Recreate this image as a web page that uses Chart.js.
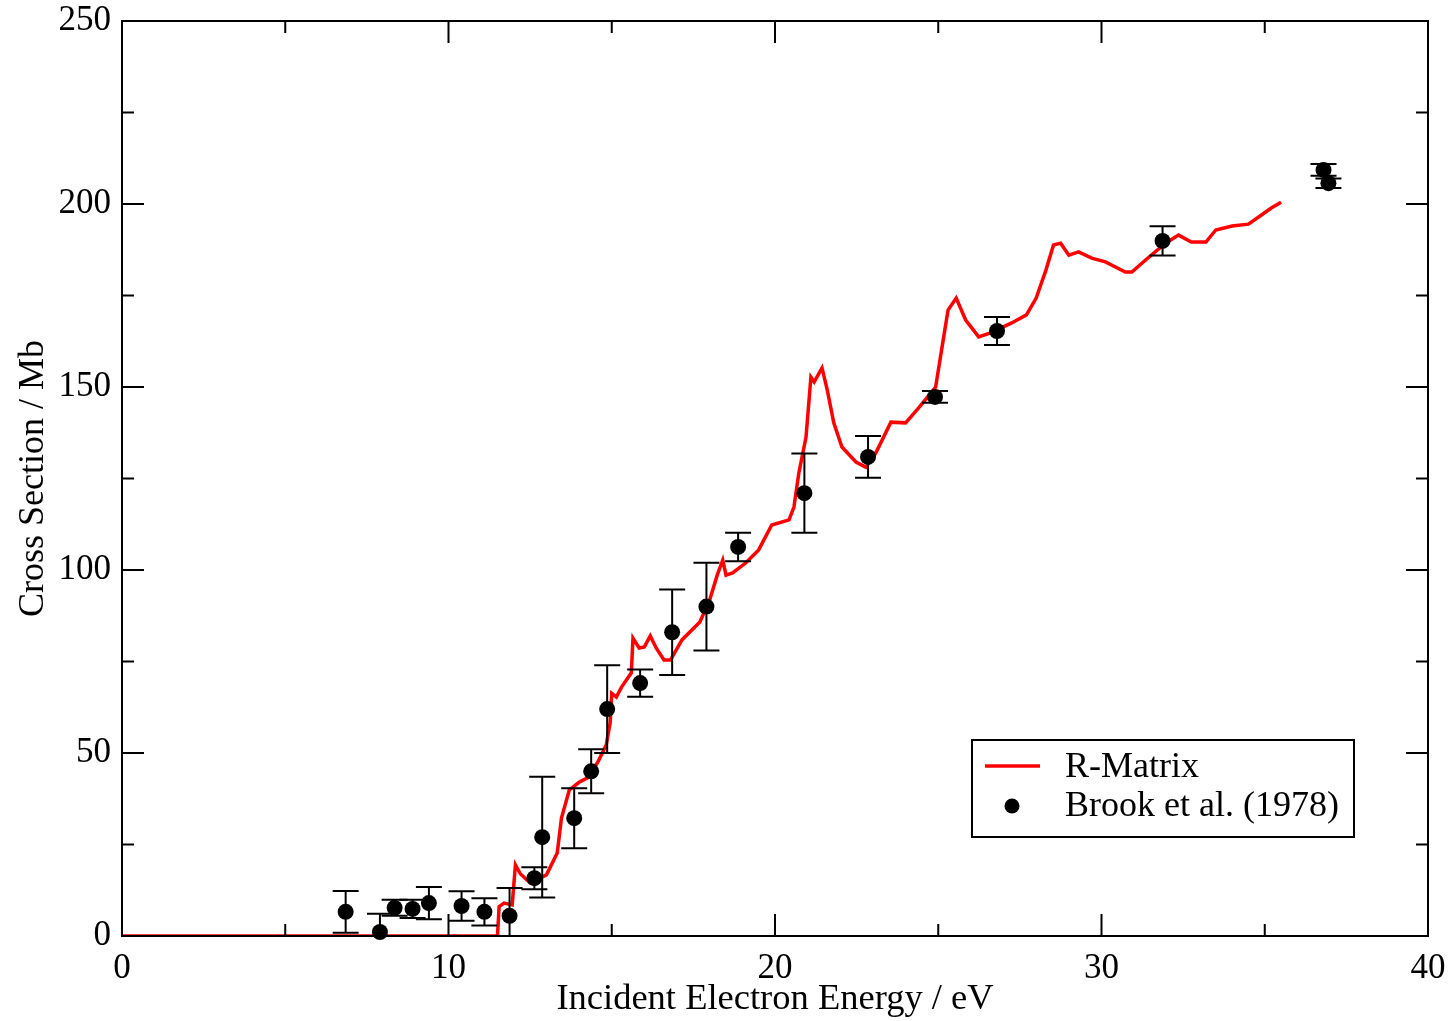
<!DOCTYPE html>
<html>
<head>
<meta charset="utf-8">
<script src="https://cdn.jsdelivr.net/npm/chart.js@4.4.1/dist/chart.umd.min.js"></script>
<style>
  html, body { margin: 0; padding: 0; background: #fff; }
  #wrap { width: 1451px; height: 1021px; position: relative; }
</style>
</head>
<body>
<div id="wrap"><canvas id="chart"></canvas></div>
<script>
// R-Matrix curve (energy in eV, cross section in Mb)
const rmEnergy = [0, 11.5, 11.55, 11.7, 11.95, 12.05, 12.2, 12.5, 13.0, 13.33, 13.46, 13.7, 14.0, 14.3, 14.6, 14.83, 14.95, 15.0, 15.14, 15.3, 15.6, 15.65, 15.84, 16.0, 16.18, 16.36, 16.6, 16.8, 17.15, 17.7, 18.0, 18.23, 18.4, 18.5, 18.7, 19.1, 19.5, 19.9, 20.43, 20.58, 20.73, 20.95, 21.1, 21.2, 21.44, 21.6, 21.8, 22.05, 22.48, 22.78, 23.09, 23.55, 24.0, 24.4, 24.92, 25.1, 25.3, 25.55, 25.84, 26.24, 26.6, 27.25, 27.7, 28.0, 28.3, 28.53, 28.75, 29.0, 29.3, 29.7, 30.12, 30.73, 30.93, 31.35, 31.96, 32.36, 32.75, 33.2, 33.5, 34.0, 34.5, 34.9, 35.2, 35.5];
const rmCross = [0, 0, 8, 9, 8.5, 19.4, 17, 14.5, 16.7, 22.7, 32.2, 39.9, 42, 43.4, 48, 52.2, 58.2, 66.3, 65.3, 68, 71.9, 81.4, 78.7, 79, 82, 78.7, 75.4, 75.4, 80.9, 85.8, 91.8, 98.6, 102.7, 98.6, 99.2, 101.9, 105.5, 112.3, 113.7, 117.2, 126.5, 136.3, 152.7, 151.4, 155.2, 149.2, 140.2, 133.6, 129.5, 128.1, 132, 140.4, 140.2, 144.3, 150, 160, 171, 174.3, 168.3, 163.7, 164.8, 167.5, 169.7, 174.3, 182, 188.8, 189.3, 186, 186.9, 185.2, 184.2, 181.4, 181.4, 184.7, 189.3, 191.5, 189.6, 189.6, 192.9, 194, 194.5, 197, 198.9, 200.5];

// Brook et al. (1978) measurements
const brookEnergy = [6.85, 7.9, 8.35, 8.9, 9.4, 10.4, 11.1, 11.87, 12.63, 12.87, 13.85, 14.37, 14.86, 15.87, 16.85, 17.9, 18.87, 20.9, 22.85, 24.9, 26.8, 31.87, 36.8, 36.95];
const brookCross = [6.6, 1.1, 7.7, 7.4, 9.0, 8.2, 6.6, 5.5, 15.8, 27, 32.2, 45, 62, 69.1, 83, 90, 106.3, 121, 130.9, 147.3, 165.3, 189.9, 209.3, 205.7];
const brookErr = [5.7, 5, 2.2, 2.5, 4.4, 4, 3.7, 7.6, 3, 16.5, 8.2, 6, 12, 3.7, 11.7, 12, 3.9, 10.8, 5.7, 1.6, 3.8, 4, 1.6, 1.3];

const xMajor = [0, 10, 20, 30, 40];
const xMinor = [5, 15, 25, 35];
const yMajor = [0, 50, 100, 150, 200, 250];
const yMinor = [25, 75, 125, 175, 225];

const seriesLabels = ['R-Matrix', 'Brook et al. (1978)'];
const xTitle = 'Incident Electron Energy / eV';
const yTitle = 'Cross Section / Mb';

const SERIF = '"Liberation Serif", "DejaVu Serif", serif';
const RED = '#ff0000';

// error bars, drawn through the scales
const errorBars = {
  id: 'errorBars',
  afterDatasetsDraw(chart) {
    const { ctx, scales: { x, y }, chartArea: a } = chart;
    ctx.save();
    ctx.beginPath();
    ctx.rect(a.left, a.top, a.right - a.left, a.bottom - a.top);
    ctx.clip();
    ctx.strokeStyle = '#000';
    ctx.lineWidth = 2;
    brookEnergy.forEach((e, i) => {
      const px = x.getPixelForValue(e);
      const top = y.getPixelForValue(brookCross[i] + brookErr[i]);
      const bot = y.getPixelForValue(brookCross[i] - brookErr[i]);
      ctx.beginPath();
      ctx.moveTo(px, top); ctx.lineTo(px, bot);
      ctx.moveTo(px - 13, top); ctx.lineTo(px + 13, top);
      ctx.moveTo(px - 13, bot); ctx.lineTo(px + 13, bot);
      ctx.stroke();
    });
    ctx.restore();
  }
};

// frame + inward ticks on all four sides, legend box
const frame = {
  id: 'frame',
  afterDraw(chart) {
    const { ctx, scales: { x, y }, chartArea: a } = chart;
    ctx.save();
    ctx.strokeStyle = '#000';
    ctx.lineWidth = 2;
    ctx.strokeRect(a.left, a.top, a.right - a.left, a.bottom - a.top);
    ctx.beginPath();
    const tx = (v, len) => {
      const p = x.getPixelForValue(v);
      ctx.moveTo(p, a.bottom); ctx.lineTo(p, a.bottom - len);
      ctx.moveTo(p, a.top); ctx.lineTo(p, a.top + len);
    };
    const ty = (v, len) => {
      const p = y.getPixelForValue(v);
      ctx.moveTo(a.left, p); ctx.lineTo(a.left + len, p);
      ctx.moveTo(a.right, p); ctx.lineTo(a.right - len, p);
    };
    xMajor.forEach(v => tx(v, 22));
    xMinor.forEach(v => tx(v, 12));
    yMajor.forEach(v => ty(v, 22));
    yMinor.forEach(v => ty(v, 12));
    ctx.stroke();

    // legend
    const lx = 972, ly = 740, lw = 382, lh = 97;
    ctx.fillStyle = '#fff';
    ctx.fillRect(lx, ly, lw, lh);
    ctx.strokeRect(lx, ly, lw, lh);
    ctx.strokeStyle = RED;
    ctx.lineWidth = 3.5;
    ctx.beginPath();
    ctx.moveTo(985, 766); ctx.lineTo(1040, 766);
    ctx.stroke();
    ctx.fillStyle = '#000';
    ctx.beginPath();
    ctx.arc(1012, 806, 7.5, 0, Math.PI * 2);
    ctx.fill();
    ctx.font = '36px ' + SERIF;
    ctx.textBaseline = 'middle';
    ctx.textAlign = 'left';
    ctx.fillText(seriesLabels[0], 1065, 768);
    ctx.fillText(seriesLabels[1], 1065, 807);
    ctx.restore();
  }
};

new Chart(document.getElementById('chart'), {
  type: 'scatter',
  data: {
    datasets: [
      {
        label: seriesLabels[0],
        data: rmEnergy.map((e, i) => ({ x: e, y: rmCross[i] })),
        showLine: true, borderColor: RED, borderWidth: 3.5, pointRadius: 0, tension: 0, order: 2,
      },
      {
        label: seriesLabels[1],
        data: brookEnergy.map((e, i) => ({ x: e, y: brookCross[i] })),
        pointRadius: 8, pointBackgroundColor: '#000', pointBorderWidth: 0, clip: false, order: 1,
      },
    ],
  },
  options: {
    responsive: true, maintainAspectRatio: false, animation: false,
    layout: { padding: { top: 21, right: 23, left: 0, bottom: 0 } },
    plugins: { legend: { display: false }, tooltip: { enabled: false } },
    scales: {
      x: {
        min: 0, max: 40,
        afterBuildTicks: (s) => { s.ticks = xMajor.map(v => ({ value: v })); },
        afterFit: (s) => { s.height = 85; s.paddingLeft = 0; s.paddingRight = 0; },
        grid: { display: false },
        border: { display: false },
        ticks: { color: '#000', font: { family: SERIF, size: 35 }, padding: 4, maxRotation: 0 },
        title: { display: true, text: xTitle, color: '#000', font: { family: SERIF, size: 36.5 }, padding: { top: 9, bottom: 0 } },
      },
      y: {
        min: 0, max: 250,
        afterBuildTicks: (s) => { s.ticks = yMajor.map(v => ({ value: v })); },
        afterFit: (s) => { s.width = 122; s.paddingTop = 0; s.paddingBottom = 0; },
        grid: { display: false },
        border: { display: false },
        ticks: { color: '#000', font: { family: SERIF, size: 35 }, padding: 3 },
        title: { display: true, text: yTitle, color: '#000', font: { family: SERIF, size: 36 }, padding: { top: 12, bottom: 0 } },
      },
    },
  },
  plugins: [errorBars, frame],
});
</script>
</body>
</html>
